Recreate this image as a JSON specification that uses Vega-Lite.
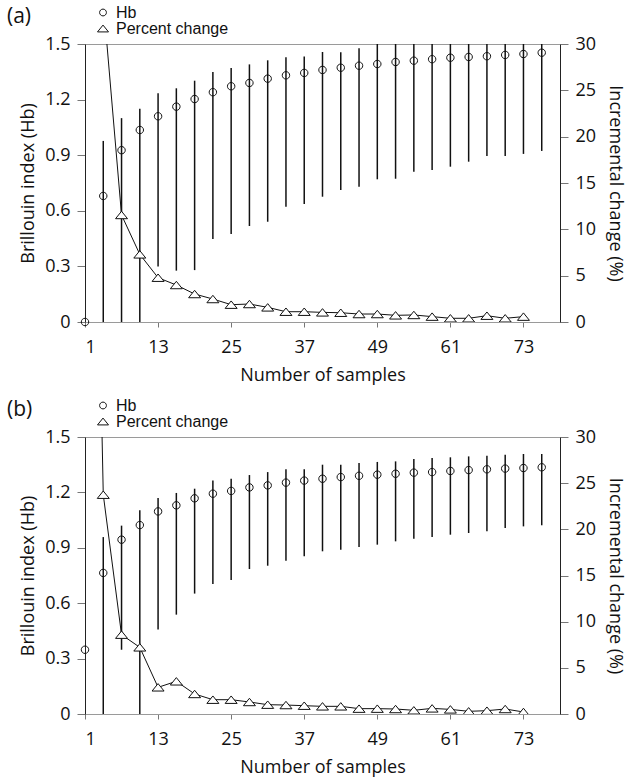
{
  "$schema": "https://vega.github.io/schema/vega-lite/v6.json",
  "background": "white",
  "padding": {"left": 6, "top": 4, "right": 6, "bottom": 4},
  "datasets": {
    "d": [
      {"p": "a", "n": 1, "hb": 0, "lo": null, "hi": null, "pct": null},
      {"p": "a", "n": 4, "hb": 0.68, "lo": 0, "hi": 0.977, "pct": 34.6},
      {"p": "a", "n": 7, "hb": 0.927, "lo": 0, "hi": 1.1, "pct": 11.55},
      {"p": "a", "n": 10, "hb": 1.036, "lo": 0, "hi": 1.15, "pct": 7.3},
      {"p": "a", "n": 13, "hb": 1.11, "lo": 0.3, "hi": 1.234, "pct": 4.78},
      {"p": "a", "n": 16, "hb": 1.162, "lo": 0.277, "hi": 1.261, "pct": 3.99},
      {"p": "a", "n": 19, "hb": 1.203, "lo": 0.28, "hi": 1.302, "pct": 3.02},
      {"p": "a", "n": 22, "hb": 1.24, "lo": 0.448, "hi": 1.349, "pct": 2.48},
      {"p": "a", "n": 25, "hb": 1.272, "lo": 0.475, "hi": 1.371, "pct": 1.87},
      {"p": "a", "n": 28, "hb": 1.29, "lo": 0.518, "hi": 1.39, "pct": 1.94},
      {"p": "a", "n": 31, "hb": 1.313, "lo": 0.541, "hi": 1.412, "pct": 1.58},
      {"p": "a", "n": 34, "hb": 1.331, "lo": 0.622, "hi": 1.428, "pct": 1.11},
      {"p": "a", "n": 37, "hb": 1.344, "lo": 0.637, "hi": 1.432, "pct": 1.11},
      {"p": "a", "n": 40, "hb": 1.36, "lo": 0.676, "hi": 1.457, "pct": 1.04},
      {"p": "a", "n": 43, "hb": 1.372, "lo": 0.712, "hi": 1.455, "pct": 1.0},
      {"p": "a", "n": 46, "hb": 1.383, "lo": 0.73, "hi": 1.477, "pct": 0.86},
      {"p": "a", "n": 49, "hb": 1.392, "lo": 0.77, "hi": 1.5, "pct": 0.86},
      {"p": "a", "n": 52, "hb": 1.403, "lo": 0.773, "hi": 1.5, "pct": 0.72},
      {"p": "a", "n": 55, "hb": 1.41, "lo": 0.811, "hi": 1.5, "pct": 0.76},
      {"p": "a", "n": 58, "hb": 1.418, "lo": 0.82, "hi": 1.5, "pct": 0.58},
      {"p": "a", "n": 61, "hb": 1.426, "lo": 0.838, "hi": 1.5, "pct": 0.4},
      {"p": "a", "n": 64, "hb": 1.43, "lo": 0.865, "hi": 1.5, "pct": 0.4},
      {"p": "a", "n": 67, "hb": 1.434, "lo": 0.896, "hi": 1.5, "pct": 0.68},
      {"p": "a", "n": 70, "hb": 1.441, "lo": 0.896, "hi": 1.5, "pct": 0.4},
      {"p": "a", "n": 73, "hb": 1.446, "lo": 0.907, "hi": 1.5, "pct": 0.58},
      {"p": "a", "n": 76, "hb": 1.453, "lo": 0.923, "hi": 1.5, "pct": null},
      {"p": "b", "n": 1, "hb": 0.348, "lo": null, "hi": null, "pct": 120},
      {"p": "b", "n": 4, "hb": 0.764, "lo": 0, "hi": 0.958, "pct": 23.75},
      {"p": "b", "n": 7, "hb": 0.944, "lo": 0.348, "hi": 1.02, "pct": 8.59},
      {"p": "b", "n": 10, "hb": 1.023, "lo": 0, "hi": 1.103, "pct": 7.22},
      {"p": "b", "n": 13, "hb": 1.097, "lo": 0.457, "hi": 1.17, "pct": 2.89},
      {"p": "b", "n": 16, "hb": 1.13, "lo": 0.538, "hi": 1.197, "pct": 3.54},
      {"p": "b", "n": 19, "hb": 1.168, "lo": 0.652, "hi": 1.22, "pct": 2.17},
      {"p": "b", "n": 22, "hb": 1.193, "lo": 0.704, "hi": 1.264, "pct": 1.55},
      {"p": "b", "n": 25, "hb": 1.208, "lo": 0.726, "hi": 1.274, "pct": 1.55},
      {"p": "b", "n": 28, "hb": 1.227, "lo": 0.785, "hi": 1.294, "pct": 1.3},
      {"p": "b", "n": 31, "hb": 1.238, "lo": 0.803, "hi": 1.31, "pct": 1.01},
      {"p": "b", "n": 34, "hb": 1.253, "lo": 0.83, "hi": 1.325, "pct": 0.97},
      {"p": "b", "n": 37, "hb": 1.264, "lo": 0.854, "hi": 1.325, "pct": 0.9},
      {"p": "b", "n": 40, "hb": 1.274, "lo": 0.881, "hi": 1.35, "pct": 0.83},
      {"p": "b", "n": 43, "hb": 1.283, "lo": 0.89, "hi": 1.35, "pct": 0.83},
      {"p": "b", "n": 46, "hb": 1.29, "lo": 0.904, "hi": 1.359, "pct": 0.58},
      {"p": "b", "n": 49, "hb": 1.296, "lo": 0.917, "hi": 1.365, "pct": 0.58},
      {"p": "b", "n": 52, "hb": 1.301, "lo": 0.935, "hi": 1.368, "pct": 0.54},
      {"p": "b", "n": 55, "hb": 1.307, "lo": 0.949, "hi": 1.381, "pct": 0.4},
      {"p": "b", "n": 58, "hb": 1.31, "lo": 0.958, "hi": 1.386, "pct": 0.61},
      {"p": "b", "n": 61, "hb": 1.316, "lo": 0.971, "hi": 1.39, "pct": 0.5},
      {"p": "b", "n": 64, "hb": 1.321, "lo": 0.98, "hi": 1.395, "pct": 0.29},
      {"p": "b", "n": 67, "hb": 1.325, "lo": 0.989, "hi": 1.399, "pct": 0.36},
      {"p": "b", "n": 70, "hb": 1.329, "lo": 1.007, "hi": 1.404, "pct": 0.54},
      {"p": "b", "n": 73, "hb": 1.332, "lo": 1.016, "hi": 1.408, "pct": 0.22},
      {"p": "b", "n": 76, "hb": 1.336, "lo": 1.022, "hi": 1.408, "pct": null}
    ]
  },
  "config": {
    "font": "Open Sans",
    "view": {"stroke": "#9a9a9a", "strokeWidth": 1},
    "axis": {
      "labelFont": "Open Sans", "labelFontSize": 18, "labelColor": "#111",
      "titleFont": "Open Sans", "titleFontSize": 18, "titleFontWeight": "normal", "titleColor": "#111",
      "grid": false, "tickColor": "#777", "domainColor": "#222", "tickSize": 8, "labelPadding": 7
    },
    "title": {"font": "Open Sans", "fontSize": 21, "fontWeight": "normal", "color": "#111"},
    "legend": {
      "orient": "none", "legendX": 10, "legendY": -39.5, "title": null,
      "labelFont": "Liberation Sans", "labelFontSize": 16, "labelColor": "#111",
      "symbolSize": 121, "symbolStrokeColor": "#111", "symbolFillColor": "white", "symbolStrokeWidth": 1,
      "rowPadding": 0, "labelOffset": 5, "padding": 0
    }
  },
  "spacing": 12,
  "resolve": {"scale": {"shape": "independent", "x": "independent"}, "legend": {"shape": "independent"}},
  "vconcat": [
    {
      "width": 475, "height": 278,
      "title": {"text": "(a)", "anchor": "start", "frame": "group", "dx": -78, "offset": -22},
      "data": {"name": "d"},
      "transform": [{"filter": "datum.p == 'a'"}],
      "encoding": {
        "x": {"field": "n", "type": "quantitative", "scale": {"domain": [1, 79], "nice": false, "zero": false},
          "axis": {"values": [1, 13, 25, 37, 49, 61, 73], "title": "Number of samples", "domainColor": "#9a9a9a", "tickSize": 5, "labelPadding": 11, "titlePadding": 10}}
      },
      "layer": [
        {
          "layer": [
            {
              "transform": [{"filter": "datum.lo != null"}],
              "mark": {"type": "rule", "color": "#111", "strokeWidth": 1.5},
              "encoding": {
                "y": {"field": "lo", "type": "quantitative", "scale": {"domain": [0, 1.5], "nice": false},
                  "axis": {"orient": "left", "title": "Brillouin index (Hb)", "values": [0, 0.3, 0.6, 0.9, 1.2, 1.5], "labelExpr": "datum.value == 0 ? '0' : format(datum.value, '.1f')", "titlePadding": 7}},
                "y2": {"field": "hi"}
              }
            },
            {
              "mark": {"type": "point", "filled": false, "stroke": "#111", "strokeWidth": 1, "size": 144, "opacity": 1},
              "encoding": {
                "y": {"field": "hb", "type": "quantitative"},
                "shape": {"datum": "Hb", "type": "nominal",
                  "scale": {"domain": ["Hb", "Percent change"], "range": ["M0.62,0A0.62,0.62,0,1,1,-0.62,0A0.62,0.62,0,1,1,0.62,0Z", "M0,-0.62L1,0.62L-1,0.62Z"]}}
              }
            }
          ]
        },
        {
          "layer": [
            {
              "transform": [{"filter": "datum.pct != null"}],
              "mark": {"type": "line", "color": "#111", "strokeWidth": 1, "clip": true},
              "encoding": {
                "y": {"field": "pct", "type": "quantitative", "scale": {"domain": [0, 30], "nice": false},
                  "axis": {"orient": "right", "title": "Incremental change (%)", "values": [0, 5, 10, 15, 20, 25, 30], "titlePadding": 10}}
              }
            },
            {
              "transform": [{"filter": "datum.pct != null"}],
              "mark": {"type": "point", "filled": true, "fill": "white", "stroke": "#111", "strokeWidth": 1, "size": 144, "opacity": 1, "clip": true},
              "encoding": {
                "y": {"field": "pct", "type": "quantitative"},
                "shape": {"datum": "Percent change", "type": "nominal"}
              }
            }
          ]
        }
      ],
      "resolve": {"scale": {"y": "independent"}}
    },
    {
      "width": 475, "height": 277,
      "title": {"text": "(b)", "anchor": "start", "frame": "group", "dx": -78, "offset": -22},
      "data": {"name": "d"},
      "transform": [{"filter": "datum.p == 'b'"}],
      "encoding": {
        "x": {"field": "n", "type": "quantitative", "scale": {"domain": [1, 79], "nice": false, "zero": false},
          "axis": {"values": [1, 13, 25, 37, 49, 61, 73], "title": "Number of samples", "domainColor": "#9a9a9a", "tickSize": 5, "labelPadding": 11, "titlePadding": 10}}
      },
      "layer": [
        {
          "layer": [
            {
              "transform": [{"filter": "datum.lo != null"}],
              "mark": {"type": "rule", "color": "#111", "strokeWidth": 1.5},
              "encoding": {
                "y": {"field": "lo", "type": "quantitative", "scale": {"domain": [0, 1.5], "nice": false},
                  "axis": {"orient": "left", "title": "Brillouin index (Hb)", "values": [0, 0.3, 0.6, 0.9, 1.2, 1.5], "labelExpr": "datum.value == 0 ? '0' : format(datum.value, '.1f')", "titlePadding": 7}},
                "y2": {"field": "hi"}
              }
            },
            {
              "mark": {"type": "point", "filled": false, "stroke": "#111", "strokeWidth": 1, "size": 144, "opacity": 1},
              "encoding": {
                "y": {"field": "hb", "type": "quantitative"},
                "shape": {"datum": "Hb", "type": "nominal",
                  "scale": {"domain": ["Hb", "Percent change"], "range": ["M0.62,0A0.62,0.62,0,1,1,-0.62,0A0.62,0.62,0,1,1,0.62,0Z", "M0,-0.62L1,0.62L-1,0.62Z"]}}
              }
            }
          ]
        },
        {
          "layer": [
            {
              "transform": [{"filter": "datum.pct != null"}],
              "mark": {"type": "line", "color": "#111", "strokeWidth": 1, "clip": true},
              "encoding": {
                "y": {"field": "pct", "type": "quantitative", "scale": {"domain": [0, 30], "nice": false},
                  "axis": {"orient": "right", "title": "Incremental change (%)", "values": [0, 5, 10, 15, 20, 25, 30], "titlePadding": 10}}
              }
            },
            {
              "transform": [{"filter": "datum.pct != null"}],
              "mark": {"type": "point", "filled": true, "fill": "white", "stroke": "#111", "strokeWidth": 1, "size": 144, "opacity": 1, "clip": true},
              "encoding": {
                "y": {"field": "pct", "type": "quantitative"},
                "shape": {"datum": "Percent change", "type": "nominal"}
              }
            }
          ]
        }
      ],
      "resolve": {"scale": {"y": "independent"}}
    }
  ]
}
